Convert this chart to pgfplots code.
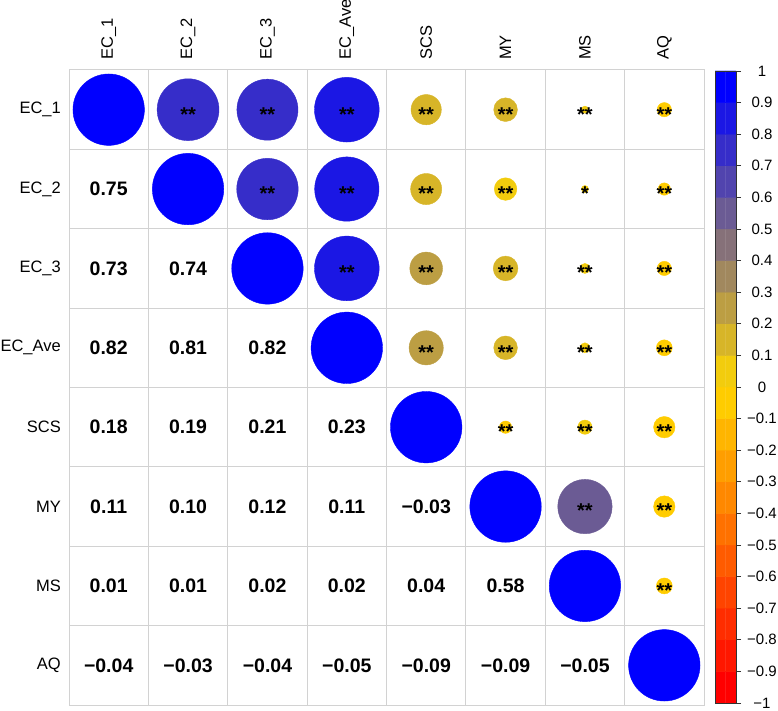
\documentclass[border=0pt]{standalone}
\usepackage{fontspec}
\setmainfont{Liberation Sans}
\usepackage{pgfplots}
\usepackage{pgfplotstable}
\pgfplotsset{compat=1.18}
\pgfplotsset{colormap={corr}{
rgb255=(255,0,0) rgb255=(255,23,0) rgb255=(255,45,0) rgb255=(255,68,0) rgb255=(255,91,0)
rgb255=(255,113,0) rgb255=(255,136,0) rgb255=(255,158,0) rgb255=(255,181,0) rgb255=(255,204,0)
rgb255=(242,204,13) rgb255=(215,181,40) rgb255=(188,158,67) rgb255=(161,136,94) rgb255=(134,113,121)
rgb255=(107,91,148) rgb255=(81,68,174) rgb255=(54,45,201) rgb255=(27,23,228) rgb255=(0,0,255)}}

% circles: column x, row y, correlation r, colour bin
\pgfplotstableread{
x y r bin
1 1 1 19
2 2 1 19
3 3 1 19
4 4 1 19
5 5 1 19
6 6 1 19
7 7 1 19
8 8 1 19
2 1 0.75 17
3 1 0.73 17
4 1 0.82 18
5 1 0.18 11
6 1 0.11 11
7 1 0.01 10
8 1 -0.04 9
3 2 0.74 17
4 2 0.81 18
5 2 0.19 11
6 2 0.10 10
7 2 0.01 10
8 2 -0.03 9
4 3 0.82 18
5 3 0.21 12
6 3 0.12 11
7 3 0.02 10
8 3 -0.04 9
5 4 0.23 12
6 4 0.11 11
7 4 0.02 10
8 4 -0.05 9
6 5 -0.03 9
7 5 0.04 10
8 5 -0.09 9
7 6 0.58 15
8 6 -0.09 9
8 7 -0.05 9
}\circdata

\pgfplotstableread{
x y s
2 1 **
3 1 **
4 1 **
5 1 **
6 1 **
7 1 **
8 1 **
3 2 **
4 2 **
5 2 **
6 2 **
7 2 *
8 2 **
4 3 **
5 3 **
6 3 **
7 3 **
8 3 **
5 4 **
6 4 **
7 4 **
8 4 **
6 5 **
7 5 **
8 5 **
7 6 **
8 6 **
8 7 **
}\stardata

\pgfplotstableread{
x y lab
1 2 0.75
1 3 0.73
2 3 0.74
1 4 0.82
2 4 0.81
3 4 0.82
1 5 0.18
2 5 0.19
3 5 0.21
4 5 0.23
1 6 0.11
2 6 0.10
3 6 0.12
4 6 0.11
5 6 −0.03
1 7 0.01
2 7 0.01
3 7 0.02
4 7 0.02
5 7 0.04
6 7 0.58
1 8 −0.04
2 8 −0.03
3 8 −0.04
4 8 −0.05
5 8 −0.09
6 8 −0.09
7 8 −0.05
}\numdata

\pgfplotstableread{
x y c
0 -0.95 0
1 -0.95 0
0 -0.85 1
1 -0.85 1
0 -0.75 2
1 -0.75 2
0 -0.65 3
1 -0.65 3
0 -0.55 4
1 -0.55 4
0 -0.45 5
1 -0.45 5
0 -0.35 6
1 -0.35 6
0 -0.25 7
1 -0.25 7
0 -0.15 8
1 -0.15 8
0 -0.05 9
1 -0.05 9
0 0.05 10
1 0.05 10
0 0.15 11
1 0.15 11
0 0.25 12
1 0.25 12
0 0.35 13
1 0.35 13
0 0.45 14
1 0.45 14
0 0.55 15
1 0.55 15
0 0.65 16
1 0.65 16
0 0.75 17
1 0.75 17
0 0.85 18
1 0.85 18
0 0.95 19
1 0.95 19
}\bardata

\begin{document}
\begin{tikzpicture}[x=1pt,y=1pt]
\useasboundingbox (0,0) rectangle (778,711);
\begin{axis}[
  at={(69pt,6pt)}, anchor=south west,
  width=635pt, height=635pt, scale only axis,
  xmin=0.5, xmax=8.5, ymin=0.5, ymax=8.5, y dir=reverse,
  colormap name=corr, point meta min=0, point meta max=19,
  xtick={1,...,8}, ytick={1,...,8},
  xticklabels={EC\_1,EC\_2,EC\_3,EC\_Ave,SCS,MY,MS,AQ},
  yticklabels={EC\_1,EC\_2,EC\_3,EC\_Ave,SCS,MY,MS,AQ},
  xticklabel pos=upper,
  major tick length=0pt, minor tick length=0pt,
  xticklabel style={rotate=90, anchor=west, inner sep=0pt, font=\fontsize{16.5}{16.5}\selectfont},
  yticklabel style={anchor=east, inner sep=0pt, font=\fontsize{16.5}{16.5}\selectfont},
  xticklabel shift=10pt, yticklabel shift=8pt,
  minor xtick={0.5,1.5,...,8.5}, minor ytick={0.5,1.5,...,8.5},
  xminorgrids=true, yminorgrids=true,
  minor grid style={draw=gray!35, line width=1pt},
  axis line style={draw=gray!35, line width=1pt},
  clip=false,
]
\addplot[scatter, only marks, mark=*,
  point meta=\thisrow{bin},
  scatter/use mapped color={draw=mapped color, fill=mapped color},
  visualization depends on={0.45*sqrt(abs(\thisrow{r}))*79.375 \as \rad},
  scatter/@pre marker code/.append style={/tikz/mark size=\rad pt, /tikz/line width=0.1pt}]
  table[x=x, y=y] {\circdata};
\addplot[only marks, mark size=0pt, mark options={draw=none, fill=none},
  nodes near coords, point meta=explicit symbolic,
  nodes near coords style={anchor=center, font=\bfseries\fontsize{20}{20}\selectfont, yshift=-4.5pt}]
  table[x=x, y=y, meta=s] {\stardata};
\addplot[only marks, mark size=0pt, mark options={draw=none, fill=none},
  nodes near coords, point meta=explicit symbolic,
  nodes near coords style={anchor=center, font=\bfseries\fontsize{19.5}{19.5}\selectfont}]
  table[x=x, y=y, meta=lab] {\numdata};
\end{axis}
\begin{axis}[
  at={(715pt,8pt)}, anchor=south west,
  width=21pt, height=632pt, scale only axis,
  xmin=-0.5, xmax=1.5, ymin=-1, ymax=1,
  colormap name=corr, point meta min=0, point meta max=19,
  xtick=\empty,
  ytick={-1,-0.9,-0.8,-0.7,-0.6,-0.5,-0.4,-0.3,-0.2,-0.1,0,0.1,0.2,0.3,0.4,0.5,0.6,0.7,0.8,0.9,1},
  yticklabels={−1,−0.9,−0.8,−0.7,−0.6,−0.5,−0.4,−0.3,−0.2,−0.1,0,0.1,0.2,0.3,0.4,0.5,0.6,0.7,0.8,0.9,1},
  ytick pos=right, yticklabel pos=right, tick align=outside,
  major tick length=5pt,
  tick style={draw=black!80, line width=0.8pt},
  axis line style={draw=black!80, line width=0.6pt},
  yticklabel style={anchor=center, font=\fontsize{15}{15}\selectfont},
  yticklabel shift=21pt,
  axis on top,
]
\addplot[matrix plot*, mesh/cols=2, point meta=\thisrow{c}] table[x=x, y=y] {\bardata};
\end{axis}
\end{tikzpicture}
\end{document}
